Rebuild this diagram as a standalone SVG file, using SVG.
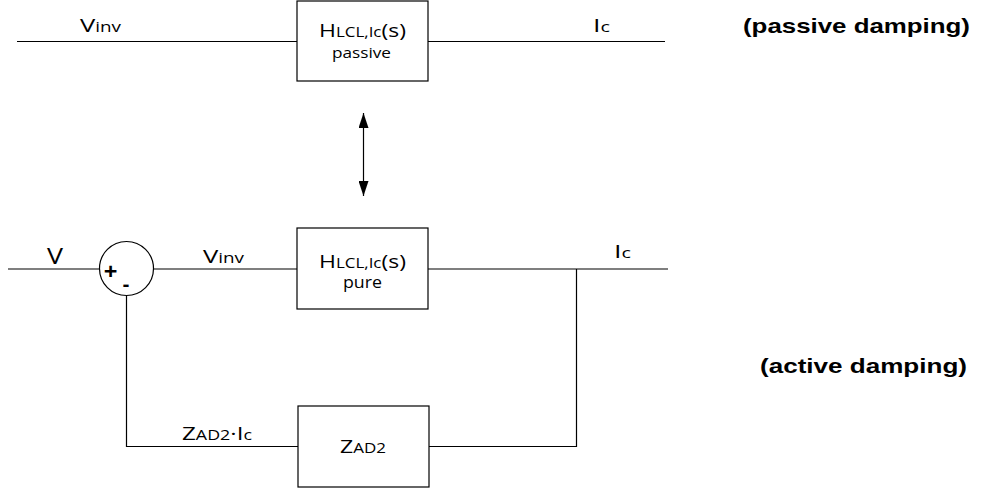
<svg xmlns="http://www.w3.org/2000/svg" width="981" height="490" viewBox="0 0 981 490">
<style>
.ln{stroke:#000;stroke-width:1.2;fill:none}
.bx{stroke:#000;stroke-width:1.2;fill:#fff}
.t{font-family:"Open Sans",sans-serif;fill:#000}
.big{font-size:19px}
.sm{font-size:14px}
.lbl{font-family:"Liberation Sans",Arial,sans-serif;font-weight:bold;font-size:21px;fill:#000}
</style>
<defs>
<marker id="ah" markerWidth="16" markerHeight="10" refX="15" refY="5" orient="auto-start-reverse" markerUnits="userSpaceOnUse" viewBox="0 0 16 10">
<path d="M0,0 L15,5 L0,10 Z" fill="#000"/>
</marker>
</defs>
<g id="connectors">
<line class="ln" x1="17" y1="41.5" x2="297" y2="41.5"/>
<line class="ln" x1="428" y1="41.5" x2="665" y2="41.5"/>
<line class="ln" x1="363.5" y1="113" x2="363.5" y2="196" marker-start="url(#ah)" marker-end="url(#ah)"/>
<line class="ln" x1="8" y1="269" x2="99.5" y2="269"/>
<line class="ln" x1="153.5" y1="269" x2="297" y2="269"/>
<line class="ln" x1="428" y1="269" x2="668" y2="269"/>
<polyline class="ln" points="576.5,269 576.5,446.5 429,446.5"/>
<polyline class="ln" points="298,446.5 126.5,446.5 126.5,295.5"/>
</g>
<g id="passive_block">
<rect class="bx" x="297" y="1" width="131" height="80"/>
<text class="t" x="319" y="37" textLength="87" lengthAdjust="spacingAndGlyphs"><tspan class="big">H</tspan><tspan class="sm">LCL,Ic</tspan><tspan class="big">(s)</tspan></text>
<text class="t" x="332" y="58" style="font-size:15px" textLength="59" lengthAdjust="spacingAndGlyphs">passive</text>
</g>
<g id="label_vinv_top"><text class="t" x="80" y="32" textLength="41" lengthAdjust="spacingAndGlyphs"><tspan class="big">V</tspan><tspan class="sm">inv</tspan></text></g>
<g id="label_ic_top"><text class="t" x="593" y="32" textLength="17" lengthAdjust="spacingAndGlyphs"><tspan class="big">I</tspan><tspan class="sm">c</tspan></text></g>
<g id="label_passive"><text class="lbl" x="743" y="33" textLength="227" lengthAdjust="spacingAndGlyphs">(passive damping)</text></g>
<g id="sum">
<circle class="bx" cx="126.5" cy="268.5" r="27"/>
<text class="t" x="110.5" y="280" text-anchor="middle" style="font-size:24px;font-weight:bold">+</text>
<text class="t" x="126" y="291" text-anchor="middle" style="font-size:20px;font-weight:bold">-</text>
</g>
<g id="label_v"><text class="t" x="47" y="264" style="font-size:22px" textLength="16" lengthAdjust="spacingAndGlyphs">V</text></g>
<g id="label_vinv_bot"><text class="t" x="203" y="263" textLength="41" lengthAdjust="spacingAndGlyphs"><tspan class="big">V</tspan><tspan class="sm">inv</tspan></text></g>
<g id="pure_block">
<rect class="bx" x="297" y="228" width="131" height="81"/>
<text class="t" x="319" y="268" textLength="87" lengthAdjust="spacingAndGlyphs"><tspan class="big">H</tspan><tspan class="sm">LCL,Ic</tspan><tspan class="big">(s)</tspan></text>
<text class="t" x="343" y="288" style="font-size:16px" textLength="39" lengthAdjust="spacingAndGlyphs">pure</text>
</g>
<g id="label_ic_bot"><text class="t" x="614" y="258" textLength="17" lengthAdjust="spacingAndGlyphs"><tspan class="big">I</tspan><tspan class="sm">c</tspan></text></g>
<g id="zad_block">
<rect class="bx" x="298" y="406" width="131" height="81"/>
<text class="t" x="340" y="453" textLength="46" lengthAdjust="spacingAndGlyphs"><tspan class="big">Z</tspan><tspan class="sm">AD2</tspan></text>
</g>
<g id="label_zad_ic"><text class="t" x="182" y="440" textLength="70" lengthAdjust="spacingAndGlyphs"><tspan class="big">Z</tspan><tspan class="sm">AD2</tspan><tspan class="big">·I</tspan><tspan class="sm">c</tspan></text></g>
<g id="label_active"><text class="lbl" x="760" y="373" textLength="207" lengthAdjust="spacingAndGlyphs">(active damping)</text></g>
</svg>
